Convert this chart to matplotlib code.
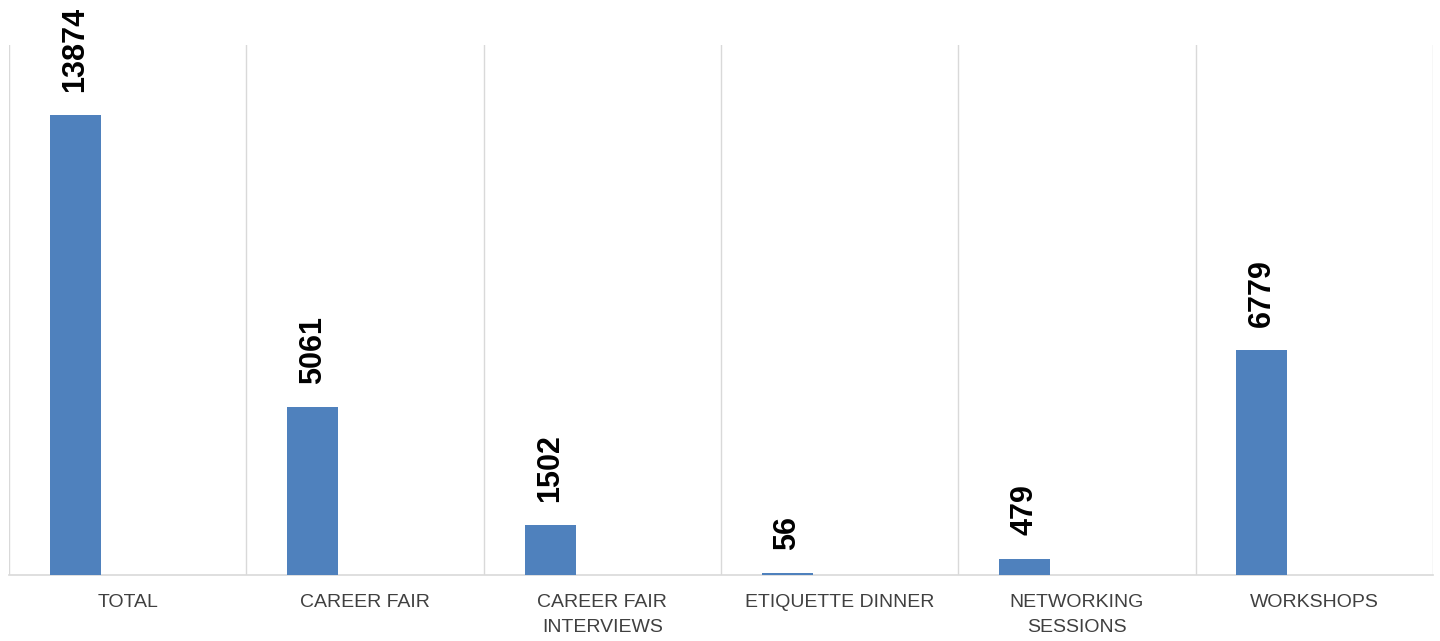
import matplotlib
matplotlib.use("Agg")
import matplotlib.pyplot as plt
import numpy as np

categories = ["TOTAL", "CAREER FAIR", "CAREER FAIR\nINTERVIEWS", "ETIQUETTE DINNER",
              "NETWORKING\nSESSIONS", "WORKSHOPS"]
values = [13874, 5061, 1502, 56, 479, 6779]

fig = plt.figure(figsize=(14.4, 6.41), dpi=100)
ax = fig.add_axes([0.00625, 0.103, 0.98875, 0.827])

x = np.arange(len(categories))
bar_w = 0.215
offset = -0.22
bars = ax.bar(x + offset, values, width=bar_w, color="#4F81BD", zorder=3)

for b, v in zip(bars, values):
    ax.annotate(str(v), (b.get_x() + b.get_width() / 2, v), xytext=(0, 17),
                textcoords="offset points", rotation=90, ha="center", va="bottom",
                fontsize=22, fontweight="bold", family="Liberation Sans", color="black")

ax.set_xlim(-0.5, len(categories) - 0.5)
ax.set_ylim(0, 16000)

# category separators
for k in range(len(categories) + 1):
    ax.axvline(k - 0.5, color="#D9D9D9", lw=1, zorder=1)

for s in ["top", "left", "right"]:
    ax.spines[s].set_visible(False)
ax.spines["bottom"].set_color("#D9D9D9")
ax.spines["bottom"].set_linewidth(1.2)

ax.set_yticks([])
ax.set_xticks(x)
ax.set_xticklabels(categories, fontsize=14, family="Liberation Sans", color="#404040",
                   linespacing=1.55)
ax.tick_params(axis="x", length=0, pad=14)

fig.savefig("out.png", dpi=100)
